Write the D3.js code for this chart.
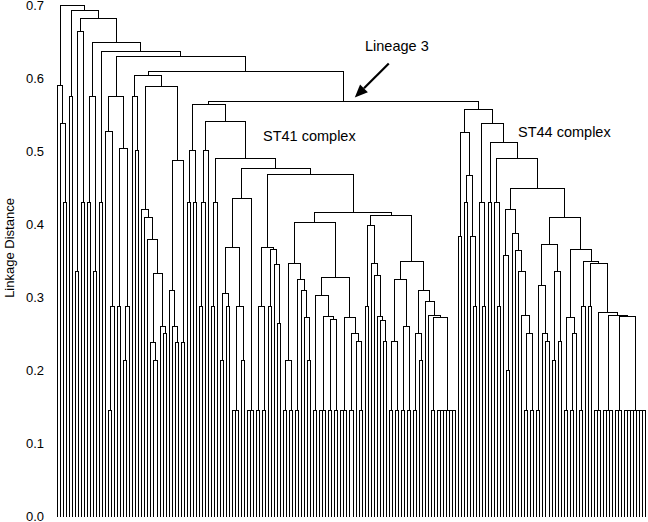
<!DOCTYPE html>
<html>
<head>
<meta charset="utf-8">
<script src="https://cdn.jsdelivr.net/npm/d3@7"></script>
<style>
  html, body { margin: 0; padding: 0; background: #fff; }
  svg { display: block; }
  text { font-family: Arial, "Liberation Sans", sans-serif; fill: #000; }
</style>
</head>
<body>
<svg id="chart" width="648" height="522"></svg>
<script>
// ---------------- DATA ----------------
// Tree spec: [height, child, child, ...]; a number n = n isolates joined at the base level (1 = single isolate)
const baseHeight = 0.145;
const yTicks = [0.0, 0.1, 0.2, 0.3, 0.4, 0.5, 0.6, 0.7];
const yLabel = "Linkage Distance";
const annotations = ["Lineage 3", "ST41 complex", "ST44 complex"];

const clusterA = [0.59, 1, [0.538, 1, [0.43, 1, 1]]];
const clusterC = [0.575, 1, 1];
const clusterE = [0.664, [0.335, 1, 1], [0.43, 1, 1]];
const clusterG = [0.575, [0.43, 1, 1], [0.335, 1, 1]];
const clusterI = [0.43, 1, 1];
const clusterK = [0.575, [0.527, 1, [0.287, 2, 1]], [0.504, [0.287, 1, 1], [0.287, [0.214, 1, 1], 1]]];
const clusterM = [0.604,
  [0.575, 1, [0.502, 1, 1]],
  [0.589,
    [0.421, 1, [0.41, 1, [0.379, 1, [0.333, [0.239, 1, [0.214, 1, 1]], [0.26, 1, [0.25, 1, 1]]]]]],
    [0.487, [0.31, 1, [0.26, 1, [0.238, 1, 1]]], [0.238, 1, 1]]]];
const clusterST41 = [0.565,
  [0.502, [0.43, 1, 1], [0.43, 1, 1]],
  [0.541,
    [0.502, [0.43, [0.287, 1, 1], 1], 1],
    [0.491,
      [0.43, [0.287, 1, 1], 1],
      [0.477,
        [0.435, [0.369, [0.306, [0.214, 1, 1], [0.287, 1, 1]], [0.287, 3, [0.214, 1, 1]]], 3],
        [0.468,
          [0.368, [0.287, 2, 2], [0.366, [0.287, 1, 1], [0.345, 1, [0.264, 1, 1]]]],
          [0.417,
            [0.403,
              [0.347, [0.214, 2, 2], [0.325, 2, [0.31, 1, [0.272, 1, [0.214, 1, 1]]]]],
              [0.328, [0.303, 2, [0.274, 3, [0.27, 2, 2]]], [0.273, 3, [0.25, 2, [0.24, 1, 2]]]]],
            [0.412,
              [0.398, [0.287, 1, 1], [0.347, 1, [0.33, 1, [0.274, 1, [0.268, 1, [0.24, 1, 1]]]]]],
              [0.349,
                [0.324, [0.24, 2, 2], [0.26, 2, 2]],
                [0.31, [0.25, 2, [0.214, 1, 1]], [0.294, 1, [0.275, 1, [0.273, 2, 7]]]]]]]]]]]];
const clusterST44 = [0.558,
  [0.526, [0.383, 1, 1], [0.467, [0.43, 1, 1], [0.383, 1, [0.287, 1, 1]]]],
  [0.538,
    [0.43, 1, [0.287, 1, 1]],
    [0.512,
      [0.43, 1, 1],
      [0.491,
        [0.43, 1, [0.287, 1, 1]],
        [0.449,
          [0.421, [0.358, 1, [0.2, 1, 1]], [0.387, 1, [0.365, 1, [0.335, 1, [0.276, 1, [0.25, 2, 2]]]]]],
          [0.409,
            [0.373, [0.316, 2, [0.25, 1, [0.24, 1, 1]]], [0.335, [0.214, 1, 1], [0.24, 1, 1]]],
            [0.366,
              [0.272, 2, [0.25, 2, 1]],
              [0.35,
                [0.287, 2, 1],
                [0.346, [0.287, 1, 1], [0.28, 3, [0.276, 4, [0.274, 3, 8]]]]]]]]]]]];
const lineage3 = [0.568, clusterST41, clusterST44];
const backbone = [0.70, clusterA,
  [0.693, clusterC,
    [0.682, clusterE,
      [0.649, clusterG,
        [0.637, clusterI,
          [0.630, clusterK,
            [0.609, clusterM, lineage3]]]]]]];

// ---------------- BUILD TREE ----------------
function balance(nodes, h) {
  if (nodes.length === 1) return nodes[0];
  if (nodes.length === 2) return { h: h, children: nodes };
  const mid = Math.ceil(nodes.length / 2);
  return { h: h, children: [balance(nodes.slice(0, mid), h), balance(nodes.slice(mid), h)] };
}
function build(spec) {
  if (typeof spec === "number") {
    if (spec === 1) return { h: 0 };
    return balance(Array.from({ length: spec }, () => ({ h: 0 })), baseHeight);
  }
  const [h, ...kids] = spec;
  const node = balance(kids.map(build), h);
  if (spec === lineage3) node.tag = "lineage3";
  return node;
}
const root = d3.hierarchy(build(backbone), d => d.children);
const leaves = root.leaves();

// ---------------- SCALES ----------------
const x = d3.scaleLinear().domain([0, leaves.length - 1]).range([57, 645]);
const y = d3.scaleLinear().domain([0, 0.7]).range([516, 5]);

leaves.forEach((l, i) => { l.px = Math.round(x(i)) + 0.5; });
root.eachAfter(n => {
  if (n.children) n.px = (n.children[0].px + n.children[1].px) / 2;
  n.py = Math.round(y(n.data.h)) + 0.5;
});

// ---------------- DRAW ----------------
const svg = d3.select("#chart");
const g = svg.append("g");

let path = "";
root.each(n => {
  if (!n.children) return;
  const [a, b] = n.children;
  path += `M${a.px},${a.py}V${n.py}H${b.px}V${b.py}`;
});
g.append("path")
  .attr("d", path)
  .attr("fill", "none")
  .attr("stroke", "#000")
  .attr("stroke-width", 1)
  .attr("shape-rendering", "crispEdges");

// Y axis
const axis = d3.axisLeft(y).tickValues(yTicks).tickFormat(d3.format(".1f")).tickSize(0).tickPadding(0);
const ax = svg.append("g").attr("transform", "translate(44,0)").call(axis);
ax.select(".domain").remove();
ax.selectAll("text").attr("font-size", 13).attr("font-family", "Arial, 'Liberation Sans', sans-serif").attr("fill", "#000");

svg.append("text")
  .attr("transform", `translate(14,${248}) rotate(-90)`)
  .attr("text-anchor", "middle")
  .attr("font-size", 13)
  .text(yLabel);

// Annotations
const lin = root.descendants().find(n => n.data.tag === "lineage3");
svg.append("text").attr("x", 365).attr("y", 51).attr("font-size", 14.5).text(annotations[0]);
const tipX = lin.px + 11, tipY = lin.py - 4;
const tailX = tipX + 34, tailY = tipY - 34;
const ang = Math.atan2(tipY - tailY, tipX - tailX);
const hl = 13, hw = 5.5;
const bx = tipX - hl * Math.cos(ang), by = tipY - hl * Math.sin(ang);
svg.append("line")
  .attr("x1", tailX).attr("y1", tailY).attr("x2", bx).attr("y2", by)
  .attr("stroke", "#000").attr("stroke-width", 2.2);
svg.append("polygon")
  .attr("points", [
    [tipX, tipY],
    [bx + hw * Math.sin(ang), by - hw * Math.cos(ang)],
    [bx - hw * Math.sin(ang), by + hw * Math.cos(ang)]
  ].map(p => p.join(",")).join(" "))
  .attr("fill", "#000");
svg.append("text").attr("x", 263).attr("y", 141).attr("font-size", 14.5).text(annotations[1]);
svg.append("text").attr("x", 518).attr("y", 137).attr("font-size", 14.5).text(annotations[2]);
</script>
</body>
</html>
